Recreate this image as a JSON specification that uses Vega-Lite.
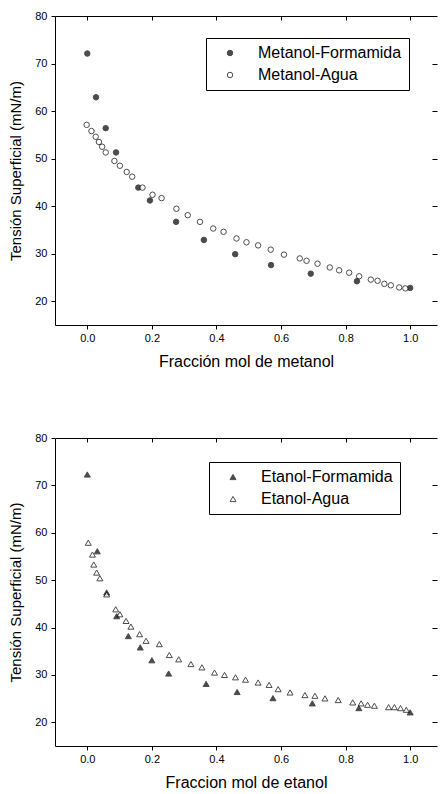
{
  "$schema": "https://vega.github.io/schema/vega-lite/v6.json",
  "background": "white",
  "padding": {"left": 8, "top": 10, "right": 0, "bottom": 0},
  "config": {
    "font": "Liberation Sans",
    "view": {"stroke": null},
    "axis": {"domainColor": "black", "tickColor": "black", "labelColor": "black", "titleColor": "black", "grid": false, "labelFont": "Liberation Sans", "titleFont": "Liberation Sans", "labelFontSize": 11, "titleFontSize": 16, "titleFontWeight": "normal", "domainWidth": 1, "tickWidth": 1},
    "legend": {"strokeColor": "black", "padding": 7, "labelFontSize": 16, "labelFont": "Liberation Sans", "labelColor": "black", "symbolStrokeColor": "black", "symbolStrokeWidth": 1, "rowPadding": 6, "labelOffset": 20, "symbolOffset": 9}
  },
  "datasets": {
    "metanol": [
      {"fraccion": 0.0, "tension": 72.1, "serie": "Metanol-Formamida"},
      {"fraccion": 0.027, "tension": 62.9, "serie": "Metanol-Formamida"},
      {"fraccion": 0.057, "tension": 56.4, "serie": "Metanol-Formamida"},
      {"fraccion": 0.089, "tension": 51.3, "serie": "Metanol-Formamida"},
      {"fraccion": 0.158, "tension": 43.9, "serie": "Metanol-Formamida"},
      {"fraccion": 0.194, "tension": 41.2, "serie": "Metanol-Formamida"},
      {"fraccion": 0.275, "tension": 36.7, "serie": "Metanol-Formamida"},
      {"fraccion": 0.361, "tension": 32.9, "serie": "Metanol-Formamida"},
      {"fraccion": 0.458, "tension": 29.9, "serie": "Metanol-Formamida"},
      {"fraccion": 0.569, "tension": 27.6, "serie": "Metanol-Formamida"},
      {"fraccion": 0.692, "tension": 25.8, "serie": "Metanol-Formamida"},
      {"fraccion": 0.835, "tension": 24.2, "serie": "Metanol-Formamida"},
      {"fraccion": 1.0, "tension": 22.8, "serie": "Metanol-Formamida"},
      {"fraccion": -0.002, "tension": 57.1, "serie": "Metanol-Agua"},
      {"fraccion": 0.013, "tension": 55.8, "serie": "Metanol-Agua"},
      {"fraccion": 0.026, "tension": 54.6, "serie": "Metanol-Agua"},
      {"fraccion": 0.036, "tension": 53.5, "serie": "Metanol-Agua"},
      {"fraccion": 0.046, "tension": 52.5, "serie": "Metanol-Agua"},
      {"fraccion": 0.057, "tension": 51.3, "serie": "Metanol-Agua"},
      {"fraccion": 0.084, "tension": 49.5, "serie": "Metanol-Agua"},
      {"fraccion": 0.101, "tension": 48.5, "serie": "Metanol-Agua"},
      {"fraccion": 0.122, "tension": 47.2, "serie": "Metanol-Agua"},
      {"fraccion": 0.139, "tension": 46.2, "serie": "Metanol-Agua"},
      {"fraccion": 0.171, "tension": 43.9, "serie": "Metanol-Agua"},
      {"fraccion": 0.202, "tension": 42.4, "serie": "Metanol-Agua"},
      {"fraccion": 0.23, "tension": 41.7, "serie": "Metanol-Agua"},
      {"fraccion": 0.276, "tension": 39.45, "serie": "Metanol-Agua"},
      {"fraccion": 0.311, "tension": 38.1, "serie": "Metanol-Agua"},
      {"fraccion": 0.349, "tension": 36.7, "serie": "Metanol-Agua"},
      {"fraccion": 0.39, "tension": 35.3, "serie": "Metanol-Agua"},
      {"fraccion": 0.422, "tension": 34.6, "serie": "Metanol-Agua"},
      {"fraccion": 0.462, "tension": 33.2, "serie": "Metanol-Agua"},
      {"fraccion": 0.493, "tension": 32.4, "serie": "Metanol-Agua"},
      {"fraccion": 0.529, "tension": 31.75, "serie": "Metanol-Agua"},
      {"fraccion": 0.568, "tension": 30.85, "serie": "Metanol-Agua"},
      {"fraccion": 0.609, "tension": 29.8, "serie": "Metanol-Agua"},
      {"fraccion": 0.658, "tension": 29.0, "serie": "Metanol-Agua"},
      {"fraccion": 0.679, "tension": 28.5, "serie": "Metanol-Agua"},
      {"fraccion": 0.713, "tension": 27.9, "serie": "Metanol-Agua"},
      {"fraccion": 0.751, "tension": 27.1, "serie": "Metanol-Agua"},
      {"fraccion": 0.78, "tension": 26.5, "serie": "Metanol-Agua"},
      {"fraccion": 0.811, "tension": 26.0, "serie": "Metanol-Agua"},
      {"fraccion": 0.842, "tension": 25.25, "serie": "Metanol-Agua"},
      {"fraccion": 0.878, "tension": 24.55, "serie": "Metanol-Agua"},
      {"fraccion": 0.899, "tension": 24.3, "serie": "Metanol-Agua"},
      {"fraccion": 0.92, "tension": 23.65, "serie": "Metanol-Agua"},
      {"fraccion": 0.94, "tension": 23.35, "serie": "Metanol-Agua"},
      {"fraccion": 0.966, "tension": 22.9, "serie": "Metanol-Agua"},
      {"fraccion": 0.985, "tension": 22.7, "serie": "Metanol-Agua"}
    ],
    "etanol": [
      {"fraccion": 0.0, "tension": 72.3, "serie": "Etanol-Formamida"},
      {"fraccion": 0.031, "tension": 56.1, "serie": "Etanol-Formamida"},
      {"fraccion": 0.06, "tension": 47.4, "serie": "Etanol-Formamida"},
      {"fraccion": 0.091, "tension": 42.4, "serie": "Etanol-Formamida"},
      {"fraccion": 0.127, "tension": 38.2, "serie": "Etanol-Formamida"},
      {"fraccion": 0.164, "tension": 35.8, "serie": "Etanol-Formamida"},
      {"fraccion": 0.2, "tension": 33.1, "serie": "Etanol-Formamida"},
      {"fraccion": 0.252, "tension": 30.3, "serie": "Etanol-Formamida"},
      {"fraccion": 0.368, "tension": 28.1, "serie": "Etanol-Formamida"},
      {"fraccion": 0.464, "tension": 26.4, "serie": "Etanol-Formamida"},
      {"fraccion": 0.575, "tension": 25.1, "serie": "Etanol-Formamida"},
      {"fraccion": 0.697, "tension": 24.0, "serie": "Etanol-Formamida"},
      {"fraccion": 0.841, "tension": 23.0, "serie": "Etanol-Formamida"},
      {"fraccion": 1.0, "tension": 22.1, "serie": "Etanol-Formamida"},
      {"fraccion": 0.003, "tension": 57.9, "serie": "Etanol-Agua"},
      {"fraccion": 0.016, "tension": 55.4, "serie": "Etanol-Agua"},
      {"fraccion": 0.02, "tension": 53.3, "serie": "Etanol-Agua"},
      {"fraccion": 0.029, "tension": 51.6, "serie": "Etanol-Agua"},
      {"fraccion": 0.039, "tension": 50.4, "serie": "Etanol-Agua"},
      {"fraccion": 0.06, "tension": 47.0, "serie": "Etanol-Agua"},
      {"fraccion": 0.088, "tension": 43.85, "serie": "Etanol-Agua"},
      {"fraccion": 0.101, "tension": 42.8, "serie": "Etanol-Agua"},
      {"fraccion": 0.12, "tension": 41.4, "serie": "Etanol-Agua"},
      {"fraccion": 0.135, "tension": 40.2, "serie": "Etanol-Agua"},
      {"fraccion": 0.162, "tension": 38.6, "serie": "Etanol-Agua"},
      {"fraccion": 0.182, "tension": 37.2, "serie": "Etanol-Agua"},
      {"fraccion": 0.223, "tension": 36.5, "serie": "Etanol-Agua"},
      {"fraccion": 0.254, "tension": 34.2, "serie": "Etanol-Agua"},
      {"fraccion": 0.283, "tension": 33.3, "serie": "Etanol-Agua"},
      {"fraccion": 0.321, "tension": 32.3, "serie": "Etanol-Agua"},
      {"fraccion": 0.355, "tension": 31.6, "serie": "Etanol-Agua"},
      {"fraccion": 0.394, "tension": 30.5, "serie": "Etanol-Agua"},
      {"fraccion": 0.425, "tension": 30.0, "serie": "Etanol-Agua"},
      {"fraccion": 0.459, "tension": 29.5, "serie": "Etanol-Agua"},
      {"fraccion": 0.49, "tension": 29.0, "serie": "Etanol-Agua"},
      {"fraccion": 0.529, "tension": 28.4, "serie": "Etanol-Agua"},
      {"fraccion": 0.563, "tension": 27.9, "serie": "Etanol-Agua"},
      {"fraccion": 0.591, "tension": 27.0, "serie": "Etanol-Agua"},
      {"fraccion": 0.628, "tension": 26.3, "serie": "Etanol-Agua"},
      {"fraccion": 0.674, "tension": 25.75, "serie": "Etanol-Agua"},
      {"fraccion": 0.705, "tension": 25.6, "serie": "Etanol-Agua"},
      {"fraccion": 0.736, "tension": 25.05, "serie": "Etanol-Agua"},
      {"fraccion": 0.777, "tension": 24.7, "serie": "Etanol-Agua"},
      {"fraccion": 0.822, "tension": 24.2, "serie": "Etanol-Agua"},
      {"fraccion": 0.848, "tension": 24.0, "serie": "Etanol-Agua"},
      {"fraccion": 0.868, "tension": 23.7, "serie": "Etanol-Agua"},
      {"fraccion": 0.889, "tension": 23.5, "serie": "Etanol-Agua"},
      {"fraccion": 0.933, "tension": 23.2, "serie": "Etanol-Agua"},
      {"fraccion": 0.951, "tension": 23.2, "serie": "Etanol-Agua"},
      {"fraccion": 0.97, "tension": 23.0, "serie": "Etanol-Agua"},
      {"fraccion": 0.988, "tension": 22.65, "serie": "Etanol-Agua"}
    ]
  },
  "bounds": "flush",
  "spacing": 113,
  "resolve": {"scale": {"fill": "independent"}, "legend": {"fill": "independent"}},
  "vconcat": [
    {
      "width": 382,
      "height": 309,
      "data": {"name": "metanol"},
      "resolve": {"axis": {"x": "independent", "y": "independent"}},
      "layer": [
        {
          "mark": {"type": "point", "shape": "circle", "filled": true, "stroke": "black", "strokeWidth": 1, "size": 30},
          "encoding": {
            "x": {"field": "fraccion", "type": "quantitative", "scale": {"domain": [-0.1, 1.083], "nice": false, "zero": false},
              "axis": {"title": "Fracción mol de metanol", "tickCount": 6, "format": ".1f", "tickSize": 4, "labelPadding": 3, "titlePadding": 10}},
            "y": {"field": "tension", "type": "quantitative", "scale": {"domain": [15, 80], "nice": false, "zero": false},
              "axis": {"title": "Tensión Superficial (mN/m)", "titleFontSize": 15, "tickCount": 7, "tickSize": 4, "labelPadding": 4, "titlePadding": 11}},
            "fill": {"field": "serie", "type": "nominal", "scale": {"domain": ["Metanol-Formamida", "Metanol-Agua"], "range": ["black", "white"]},
              "legend": {"title": null, "orient": "none", "legendX": 151, "legendY": 22, "symbolSize": 30, "symbolStrokeColor": "black", "symbolStrokeWidth": 1}}
          }
        },
        {
          "mark": {"type": "point", "opacity": 0},
          "encoding": {
            "x": {"field": "fraccion", "type": "quantitative", "axis": {"orient": "top", "labels": false, "title": null, "values": [0, 0.2, 0.4, 0.6, 0.8, 1.0], "tickSize": -4}},
            "y": {"field": "tension", "type": "quantitative", "axis": {"orient": "right", "labels": false, "title": null, "domain": false, "values": [20, 30, 40, 50, 60, 70], "tickSize": -5}}
          }
        }
      ]
    },
    {
      "width": 382,
      "height": 308,
      "data": {"name": "etanol"},
      "resolve": {"axis": {"x": "independent", "y": "independent"}},
      "layer": [
        {
          "mark": {"type": "point", "shape": "triangle-up", "filled": true, "stroke": "black", "strokeWidth": 1, "size": 36},
          "encoding": {
            "x": {"field": "fraccion", "type": "quantitative", "scale": {"domain": [-0.1, 1.083], "nice": false, "zero": false},
              "axis": {"title": "Fraccion mol de etanol", "tickCount": 6, "format": ".1f", "tickSize": 4, "labelPadding": 3, "titlePadding": 10}},
            "y": {"field": "tension", "type": "quantitative", "scale": {"domain": [15, 80], "nice": false, "zero": false},
              "axis": {"title": "Tensión Superficial (mN/m)", "titleFontSize": 15, "tickCount": 7, "tickSize": 4, "labelPadding": 4, "titlePadding": 11}},
            "fill": {"field": "serie", "type": "nominal", "scale": {"domain": ["Etanol-Formamida", "Etanol-Agua"], "range": ["black", "white"]},
              "legend": {"title": null, "orient": "none", "legendX": 154, "legendY": 24, "symbolSize": 36, "symbolStrokeColor": "black", "symbolStrokeWidth": 1}}
          }
        },
        {
          "mark": {"type": "point", "opacity": 0},
          "encoding": {
            "x": {"field": "fraccion", "type": "quantitative", "axis": {"orient": "top", "labels": false, "title": null, "values": [0, 0.2, 0.4, 0.6, 0.8, 1.0], "tickSize": -4}},
            "y": {"field": "tension", "type": "quantitative", "axis": {"orient": "right", "labels": false, "title": null, "domain": false, "values": [20, 30, 40, 50, 60, 70], "tickSize": -5}}
          }
        }
      ]
    }
  ]
}
